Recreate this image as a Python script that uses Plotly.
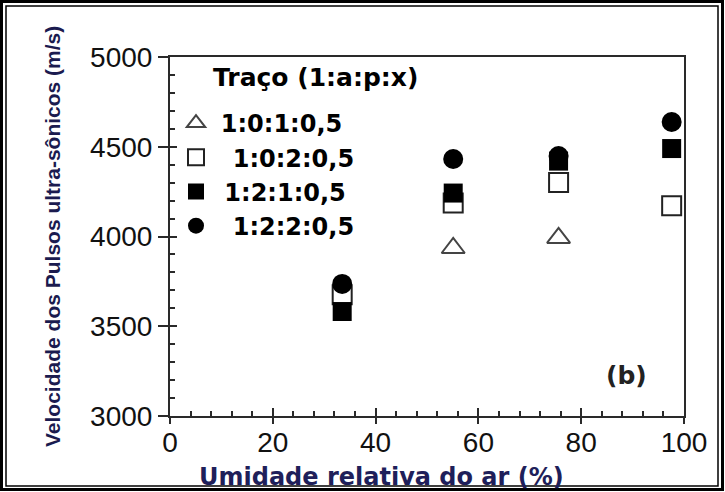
import plotly.graph_objects as go

# ---- data ----
humidity = [33.5, 55.1, 75.6, 97.6]
series_names = ["\u20091:0:1:0,5", "\u00a0\u00a01:0:2:0,5", "\u00a01:2:1:0,5", "\u00a0\u00a01:2:2:0,5"]
v_101 = [None, 3936, 3992, None]
v_102 = [3675, 4187, 4301, 4172]
v_121 = [3582, 4242, 4420, 4490]
v_122 = [3736, 4432, 4448, 4638]
x_ticks = [0, 20, 40, 60, 80, 100]
y_ticks = [3000, 3500, 4000, 4500, 5000]

W, H = 725, 492
L, R, T, B = 170, 41, 57, 76
PW, PH = W - L - R, H - T - B


def px(x):
    return (x - L) / PW


def py(y):
    return (H - B - y) / PH


fig = go.Figure()
styles = [
    dict(symbol="triangle-up", size=20, color="white", line=dict(width=2, color="#444")),
    dict(symbol="square", size=19, color="white", line=dict(width=2, color="#222")),
    dict(symbol="square", size=19, color="#000"),
    dict(symbol="circle", size=20, color="#000"),
]
for name, vals, st in zip(series_names, [v_101, v_102, v_121, v_122], styles):
    fig.add_trace(go.Scatter(x=humidity, y=vals, mode="markers", name=name,
                             marker=st, cliponaxis=False))

axis_col = "#2a2a2a"
tickfont = dict(family="Liberation Sans", size=28, color="#111")

common_off = dict(showline=False, showgrid=False, zeroline=False, showticklabels=False)

fig.update_layout(
    width=W, height=H,
    margin=dict(l=L, r=R, t=T, b=B, autoexpand=False),
    paper_bgcolor="white", plot_bgcolor="white",
    showlegend=True,
    legend=dict(x=px(176), y=py(101), xanchor="left", yanchor="top",
                bgcolor="rgba(0,0,0,0)", borderwidth=0,
                font=dict(family="DejaVu Sans", size=24, color="#000", weight="bold"),
                tracegroupgap=0),
    # primary axes: labels + frame
    xaxis=dict(range=[0, 100], tickvals=x_ticks, ticks="", showline=True,
               linecolor=axis_col, linewidth=2, mirror=True, showgrid=False,
               zeroline=False, tickfont=tickfont, fixedrange=True),
    yaxis=dict(range=[3000, 5000], tickvals=y_ticks, ticks="outside", ticklen=10, tickwidth=2,
               tickcolor=axis_col, showline=True, linecolor=axis_col, linewidth=2,
               mirror=True, showgrid=False, zeroline=False, tickfont=tickfont,
               fixedrange=True),
    # inside major + minor ticks
    xaxis2=dict(range=[0, 100], overlaying="x", anchor="y", side="bottom",
                tickvals=x_ticks, ticks="inside", ticklen=8, tickwidth=2, tickcolor=axis_col,
                minor=dict(dtick=4, tick0=0, ticks="inside", ticklen=5, tickwidth=1.5,
                           tickcolor=axis_col, showgrid=False), **common_off),
    # outside major ticks on x
    xaxis3=dict(range=[0, 100], overlaying="x", anchor="y", side="bottom",
                tickvals=x_ticks, ticks="outside", ticklen=7, tickwidth=2, tickcolor=axis_col,
                **common_off),
    yaxis2=dict(range=[3000, 5000], overlaying="y", anchor="x", side="left",
                tickvals=y_ticks, ticks="inside", ticklen=7, tickwidth=2, tickcolor=axis_col,
                minor=dict(dtick=100, tick0=3000, ticks="inside", ticklen=5, tickwidth=1.5,
                           tickcolor=axis_col, showgrid=False), **common_off),
)

# invisible traces to activate secondary axes
fig.add_trace(go.Scatter(x=[None], y=[None], xaxis="x2", yaxis="y2", showlegend=False,
                         hoverinfo="skip"))
fig.add_trace(go.Scatter(x=[None], y=[None], xaxis="x3", yaxis="y", showlegend=False,
                         hoverinfo="skip"))

fig.add_annotation(text="Traço (1:a:p:x)", x=px(315), y=py(77), xref="paper", yref="paper",
                   xanchor="center", yanchor="middle", showarrow=False,
                   font=dict(family="DejaVu Sans", size=25, color="#000", weight="bold"))
fig.add_annotation(text="(b)", x=px(626), y=py(375), xref="paper", yref="paper",
                   xanchor="center", yanchor="middle", showarrow=False,
                   font=dict(family="DejaVu Sans", size=25, color="#222", weight="bold"))
fig.add_annotation(text="Velocidade dos Pulsos ultra-sônicos (m/s)", x=px(52), y=py(237),
                   xref="paper", yref="paper", xanchor="center", yanchor="middle",
                   textangle=-90, showarrow=False,
                   font=dict(family="Liberation Sans", size=21, color="#1b1b4f", weight="bold"))
fig.add_annotation(text="Umidade relativa do ar (%)", x=px(381), y=py(477),
                   xref="paper", yref="paper", xanchor="center", yanchor="middle",
                   showarrow=False,
                   font=dict(family="DejaVu Sans", size=24, color="#1f1f5a", weight="bold"))

# double frame around the figure
fig.add_shape(type="rect", xref="paper", yref="paper", x0=px(1.5), x1=px(722.5),
              y0=py(1.5), y1=py(489.5), line=dict(color="#000", width=3), layer="above")
fig.add_shape(type="rect", xref="paper", yref="paper", x0=px(6), x1=px(718),
              y0=py(6), y1=py(486), line=dict(color="#000", width=1.5), layer="above")

fig.write_html("out.html")
